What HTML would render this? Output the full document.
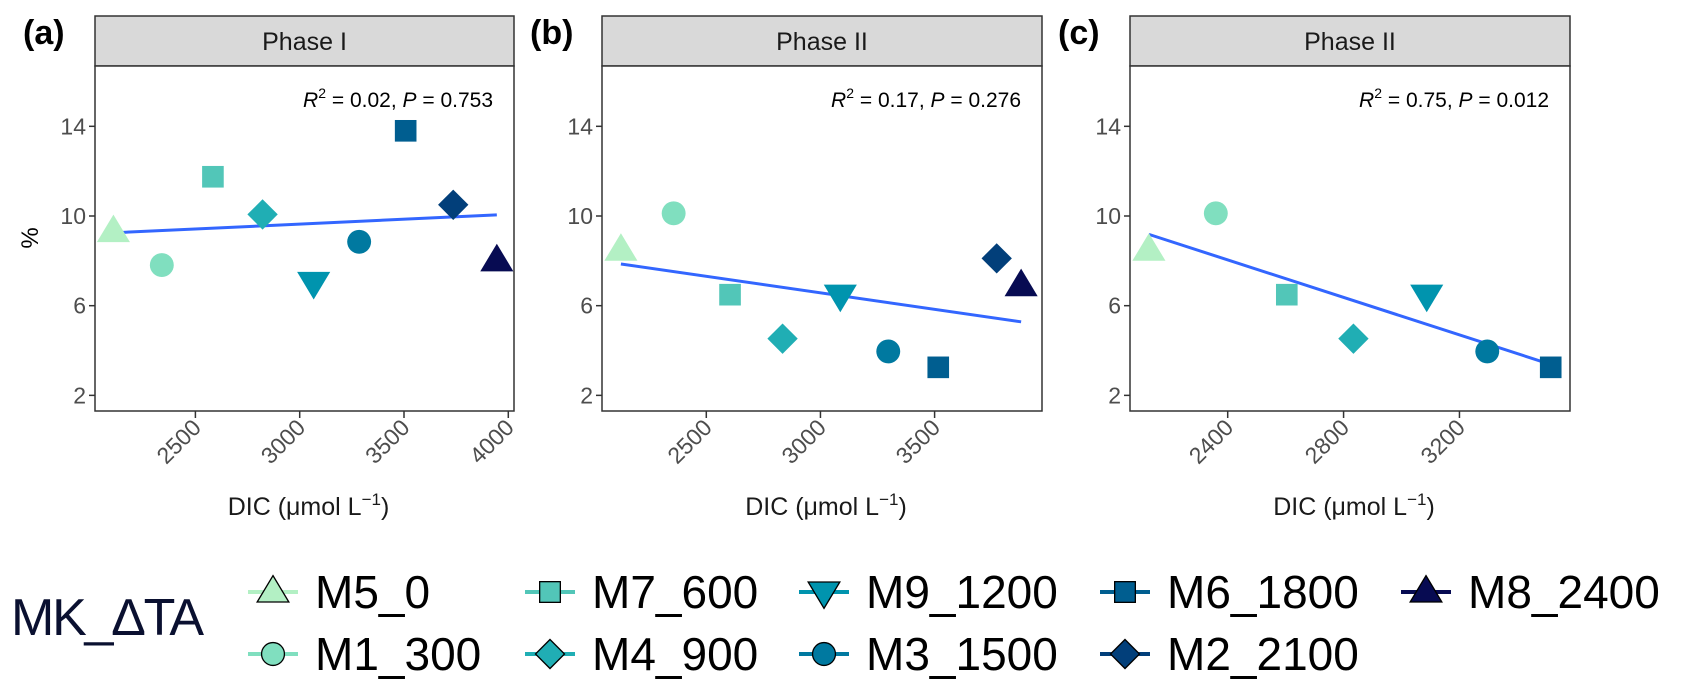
<!DOCTYPE html>
<html><head><meta charset="utf-8"><style>
body{margin:0;background:#fff;}
svg{display:block;font-family:"Liberation Sans",Arial,sans-serif;}
</style></head><body>
<svg id="chart" width="1682" height="690" viewBox="0 0 1682 690"></svg>
<script>
const groups=["M5_0","M1_300","M7_600","M4_900","M9_1200","M3_1500","M6_1800","M2_2100","M8_2400"];
const colors=["#b3f0c4","#80dfbf","#52c6b8","#20aeb4","#0094ae","#0079a0","#005e90","#023f7a","#070b52"];
const shapes=["tri","circle","square","diamond","tridown","circle","square","diamond","tri"];
const dicA=[2107,2339,2584,2822,3067,3285,3508,3736,3945];
const pctA=[9.3,7.81,11.75,10.07,7.04,8.85,13.8,10.5,8.0];
const dicB=[2126,2357,2604,2834,3087,3297,3516,3772,3879];
const pctB=[8.47,10.12,6.49,4.53,6.47,3.96,3.25,8.11,6.89];
const dicC=[2128,2359,2604,2834,3087,3296,3515];
const pctC=[8.47,10.12,6.49,4.53,6.47,3.96,3.25];
const fitA=[[2107,9.25],[3945,10.05]];
const fitB=[[2126,7.86],[3879,5.28]];
const fitC=[[2128,9.18],[3515,3.38]];
const yTicks=[2,6,10,14];
const xTicksA=[2500,3000,3500,4000];
const xTicksB=[2500,3000,3500];
const xTicksC=[2400,2800,3200];
const labels=["(a)","(b)","(c)"];
const strips=["Phase I","Phase II","Phase II"];
const stats=[["0.02","0.753"],["0.17","0.276"],["0.75","0.012"]];

const NS="http://www.w3.org/2000/svg";
const svg=document.getElementById('chart');
function mk(tag,attrs,parent){const e=document.createElementNS(NS,tag);for(const k in attrs)e.setAttribute(k,attrs[k]);(parent||svg).appendChild(e);return e;}
function yScale(v){return 216-(v-10)*22.42;}
function shape(g,s,cx,cy,col,sz,stroke){
  let e;const st=stroke?{stroke:'#000','stroke-width':1.3}:{};
  if(s==='circle'){e=mk('circle',Object.assign({cx:cx,cy:cy,r:sz*0.52,fill:col},st),g);}
  else if(s==='square'){e=mk('rect',Object.assign({x:cx-sz*0.47,y:cy-sz*0.47,width:sz*0.94,height:sz*0.94,fill:col},st),g);}
  else if(s==='diamond'){const d=sz*0.66;e=mk('polygon',Object.assign({points:`${cx},${cy-d} ${cx+d},${cy} ${cx},${cy+d} ${cx-d},${cy}`,fill:col},st),g);}
  else if(s==='tri'){const w=sz*0.72,h=sz*1.2;e=mk('polygon',Object.assign({points:`${cx},${cy-h*0.62} ${cx+w},${cy+h*0.38} ${cx-w},${cy+h*0.38}`,fill:col},st),g);}
  else {const w=sz*0.72,h=sz*1.2;e=mk('polygon',Object.assign({points:`${cx},${cy+h*0.62} ${cx+w},${cy-h*0.38} ${cx-w},${cy-h*0.38}`,fill:col},st),g);}
  return e;
}
const panels=[
 {L:95,R:514,x0:2500,px0:195.4,k:0.2086,ticks:xTicksA,dic:dicA,pct:pctA,fit:fitA},
 {L:602,R:1042,x0:2500,px0:706.3,k:0.2283,ticks:xTicksB,dic:dicB,pct:pctB,fit:fitB},
 {L:1130,R:1570,x0:2400,px0:1227.7,k:0.2897,ticks:xTicksC,dic:dicC,pct:pctC,fit:fitC}
];
panels.forEach((p,i)=>{
  const xs=v=>p.px0+(v-p.x0)*p.k;
  const g=mk('g',{});
  
  
  const lab=mk('text',{x:p.L-72,y:44,'font-size':34,'font-weight':'bold',fill:'#000'},g);lab.textContent=labels[i];
  
  const st=mk('rect',{x:p.L,y:16,width:p.R-p.L,height:50,fill:'#d9d9d9',stroke:'#333','stroke-width':1.5},g);
  
  const stt=mk('text',{x:(p.L+p.R)/2,y:50,'font-size':25,'text-anchor':'middle',fill:'#1a1a1a'},g);stt.textContent=strips[i];
  
  const bx=mk('rect',{x:p.L,y:66,width:p.R-p.L,height:345,fill:'#fff',stroke:'#333','stroke-width':1.5},g);
  
  yTicks.forEach(t=>{const y=yScale(t);
    mk('line',{x1:p.L-6,x2:p.L,y1:y,y2:y,stroke:'#333','stroke-width':1.5},g);
    const tx=mk('text',{x:p.L-9,y:y+8,'font-size':23,'text-anchor':'end',fill:'#4d4d4d'},g);tx.textContent=t;
    });
  p.ticks.forEach(t=>{const x=xs(t);
    mk('line',{x1:x,x2:x,y1:411,y2:418,stroke:'#333','stroke-width':1.5},g);
    const tx=mk('text',{x:x+7,y:429,'font-size':23,'text-anchor':'end',fill:'#4d4d4d',transform:`rotate(-45 ${x+7} ${429})`},g);tx.textContent=t;
    });
  const xt=mk('text',{x:(p.L+p.R)/2+4,y:515,'font-size':25,'text-anchor':'middle',fill:'#1a1a1a'},g);
  xt.innerHTML='DIC (μmol L<tspan dy="-10" font-size="17">−1</tspan><tspan dy="10">)</tspan>';
  
  const an=mk('text',{x:p.R-21,y:107,'font-size':21,'text-anchor':'end',fill:'#000'},g);
  an.innerHTML=`<tspan font-style="italic">R</tspan><tspan dy="-9" font-size="14">2</tspan><tspan dy="9"> = ${stats[i][0]}, </tspan><tspan font-style="italic">P</tspan> = ${stats[i][1]}`;
  
  const ln=mk('line',{x1:xs(p.fit[0][0]),y1:yScale(p.fit[0][1]),x2:xs(p.fit[1][0]),y2:yScale(p.fit[1][1]),stroke:'#3366ff','stroke-width':3},g);
  
  p.dic.forEach((d,j)=>{const e=shape(g,shapes[j],xs(d),yScale(p.pct[j]),colors[j],23,false);
    
    });
});
const yl=mk('text',{x:38,y:238,'font-size':24,'text-anchor':'middle',fill:'#000',transform:'rotate(-90 38 238)'});yl.textContent='%';


const lt=mk('text',{x:11,y:635,'font-size':52,fill:'#0a1030',textLength:193});lt.textContent='MK_ΔTA';


const colX=[273,550,824,1125,1426];
const rowY=[592,654];
groups.forEach((gname,j)=>{
  const c=Math.floor(j/2),r=j%2;
  const cx=colX[c],cy=rowY[r];
  const g=mk('g',{});
  
  
  mk('line',{x1:cx-25,x2:cx+25,y1:cy,y2:cy,stroke:colors[j],'stroke-width':4},g);
  shape(g,shapes[j],cx,cy,colors[j],22,true);
  const t=mk('text',{x:cx+42,y:cy+16,'font-size':46,fill:'#000'},g);t.textContent=gname;
});
</script>
</body></html>
